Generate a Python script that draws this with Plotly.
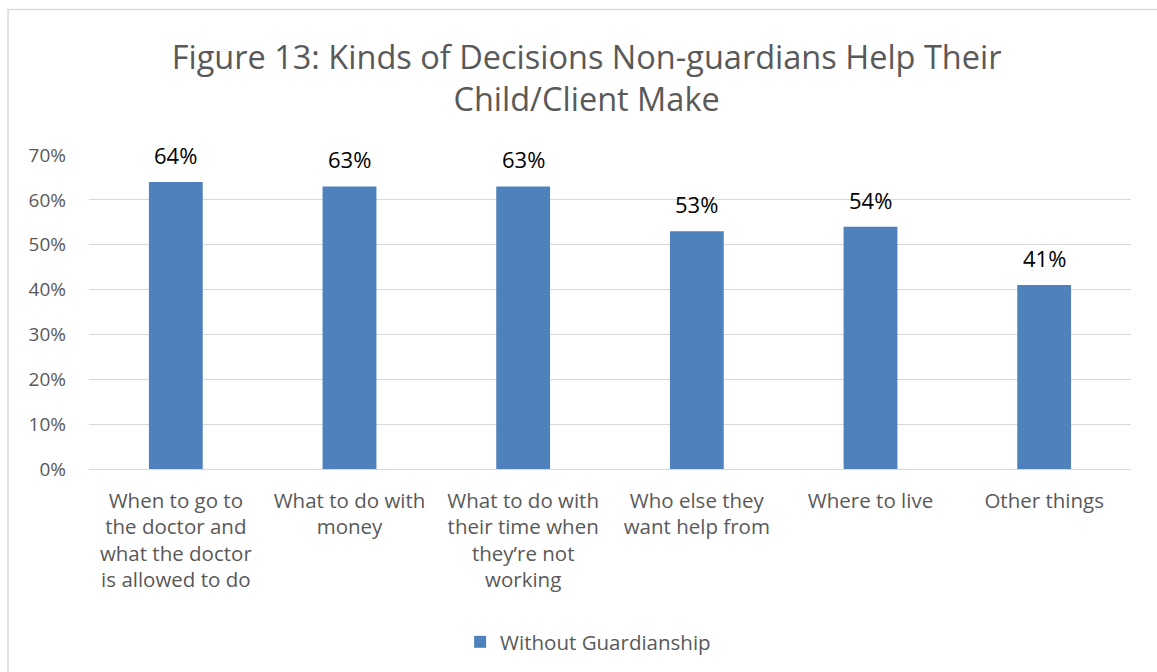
import plotly.graph_objects as go

categories = [
    "When to go to<br>the doctor and<br>what the doctor<br>is allowed to do",
    "What to do with<br>money",
    "What to do with<br>their time when<br>they’re not<br>working",
    "Who else they<br>want help from",
    "Where to live",
    "Other things",
]
values = [0.64, 0.63, 0.63, 0.53, 0.54, 0.41]
labels = ["64%", "63%", "63%", "53%", "54%", "41%"]
series_name = "Without Guardianship"
y_ticks = [0, 0.1, 0.2, 0.3, 0.4, 0.5, 0.6, 0.7]
y_ticklabels = ["0%", "10%", "20%", "30%", "40%", "50%", "60%", "70%"]

FONT = "Open Sans, Noto Sans, sans-serif"
GRAY = "#595959"
BLUE = "#4F81BD"

xs = list(range(len(categories)))

fig = go.Figure()
fig.add_trace(go.Bar(
    x=xs,
    y=values,
    name=series_name,
    marker=dict(color=BLUE, line=dict(width=0)),
    showlegend=True,
))

for xi, v, lab in zip(xs, values, labels):
    fig.add_annotation(
        x=xi, y=v, xref="x", yref="y", text=lab, showarrow=False,
        yanchor="bottom", yshift=10,
        font=dict(family=FONT, size=22, color="#000000"),
    )

fig.update_layout(
    width=1157, height=672,
    margin=dict(l=89, r=26, t=155, b=202),
    paper_bgcolor="white", plot_bgcolor="white",
    font=dict(family=FONT, color=GRAY),
    title=dict(
        text="Figure 13: Kinds of Decisions Non-guardians Help Their<br>Child/Client Make",
        x=0.507, xanchor="center", y=0.898, yanchor="middle",
        font=dict(family=FONT, size=32.5, color=GRAY),
    ),
    bargap=0.69,
    xaxis=dict(
        tickmode="array",
        tickvals=xs,
        ticktext=categories,
        range=[-0.5, len(categories) - 0.5],
        showgrid=False, zeroline=False, showline=False,
        ticks="", tickfont=dict(family=FONT, size=20.5, color=GRAY),
        ticklabelstandoff=17,
    ),
    yaxis=dict(
        range=[0, 0.7],
        tickmode="array", tickvals=y_ticks, ticktext=y_ticklabels,
        showgrid=True, gridcolor="#D9D9D9", gridwidth=1,
        zeroline=True, zerolinecolor="#D9D9D9", zerolinewidth=1,
        showline=False, ticks="",
        tickfont=dict(family=FONT, size=19, color=GRAY),
        ticklabelstandoff=22,
    ),
    legend=dict(
        orientation="h", x=0.479, xanchor="center", y=-0.546, yanchor="middle",
        font=dict(family=FONT, size=20.5, color=GRAY),
        itemwidth=30,
    ),
)

fig.add_shape(
    type="rect", xref="paper", yref="paper",
    x0=(8 - 89) / 1042, x1=(1165 - 89) / 1042,
    y0=(470 - 680) / 315, y1=(470 - 9) / 315,
    line=dict(color="#D9D9D9", width=1.5), fillcolor="rgba(0,0,0,0)",
    layer="below",
)

fig.write_html(
    "out.html",
    config={"displayModeBar": False},
    post_script="document.body.style.margin='0';document.body.style.overflow='hidden';",
)
